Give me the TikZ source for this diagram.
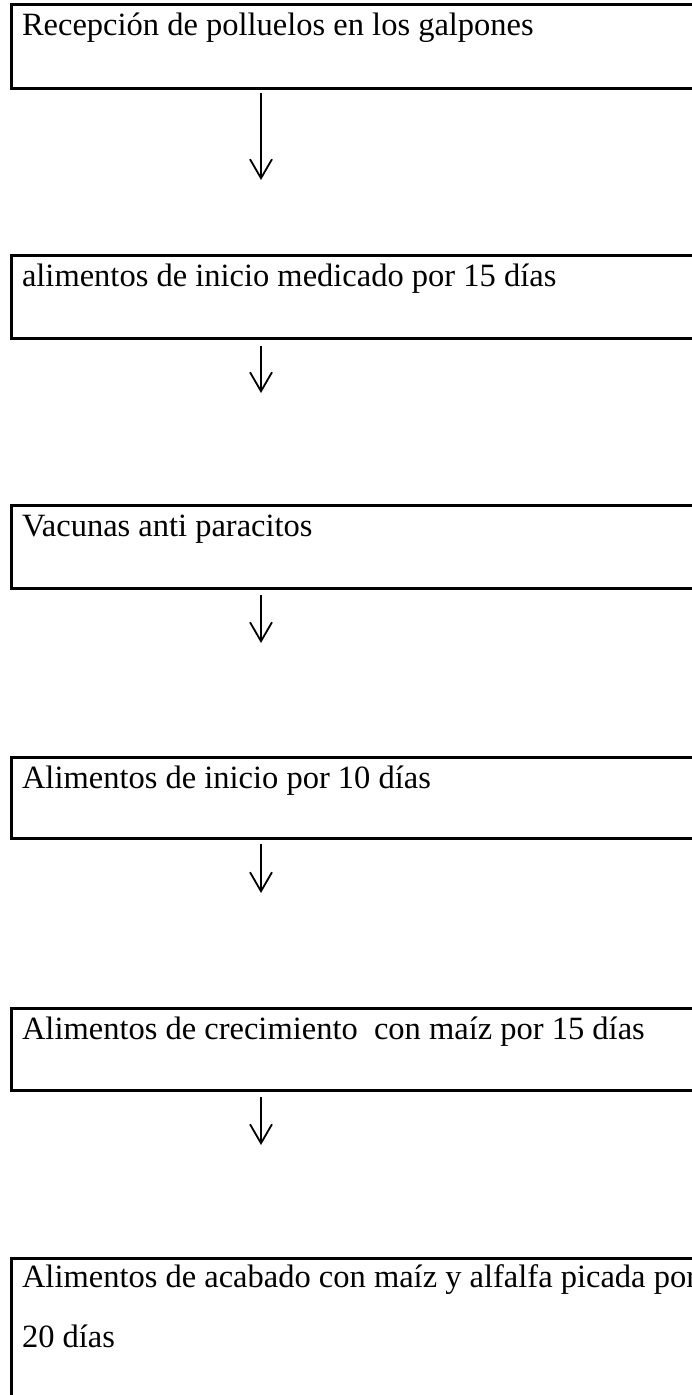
\documentclass[tikz,border=0pt]{standalone}
\usepackage{fontspec}
\setmainfont{Liberation Serif}
\usetikzlibrary{arrows.meta}
\begin{document}
\begin{tikzpicture}[x=1pt,y=-1pt,
  box/.style={draw=black, line width=3pt, rectangle, inner sep=0pt, outer sep=0pt, minimum width=760pt, anchor=north west},
  txt/.style={font=\fontsize{32.5}{62}\selectfont, inner sep=0pt, outer sep=0pt, anchor=base west},
  arr/.style={line width=1.8pt, -{Straight Barb[length=19pt,width=22pt,line width=1.8pt]}}]
\useasboundingbox (0,0) rectangle (692,1395);
\clip (0,0) rectangle (692,1395);
% boxes
\node[box, minimum height=84pt] (b1) at (11.5,4) {};
\node[box, minimum height=83.5pt] (b2) at (11.5,255) {};
\node[box, minimum height=82.5pt] (b3) at (11.5,505.5) {};
\node[box, minimum height=81pt] (b4) at (11.5,757.5) {};
\node[box, minimum height=82.5pt] (b5) at (11.5,1008) {};
\node[box, minimum height=300pt] (b6) at (11.5,1258.5) {};
% texts
\node[txt] (t1) at (22,35) {Recepción de polluelos en los galpones};
\node[txt] (t2) at (22,286) {alimentos de inicio medicado por 15 días};
\node[txt] (t3) at (22,536.5) {Vacunas anti paracitos};
\node[txt] (t4) at (22,788.5) {Alimentos de inicio por 10 días};
\node[txt] (t5) at (22,1039) {Alimentos de crecimiento\ \ con maíz por 15 días};
\node[txt] (t6) at (22,1287) {\vtop{\baselineskip=60pt\hbox{Alimentos de acabado con maíz y alfalfa picada por}\hbox{20 días}}};
% arrows
\coordinate (a1s) at (261,93);   \coordinate (a1e) at (261,180);
\coordinate (a2s) at (261,346);  \coordinate (a2e) at (261,393);
\coordinate (a3s) at (261,595);  \coordinate (a3e) at (261,643);
\coordinate (a4s) at (261,844);  \coordinate (a4e) at (261,893);
\coordinate (a5s) at (261,1097); \coordinate (a5e) at (261,1145);
\draw[arr] (a1s) -- (a1e);
\draw[arr] (a2s) -- (a2e);
\draw[arr] (a3s) -- (a3e);
\draw[arr] (a4s) -- (a4e);
\draw[arr] (a5s) -- (a5e);
\end{tikzpicture}
\end{document}
